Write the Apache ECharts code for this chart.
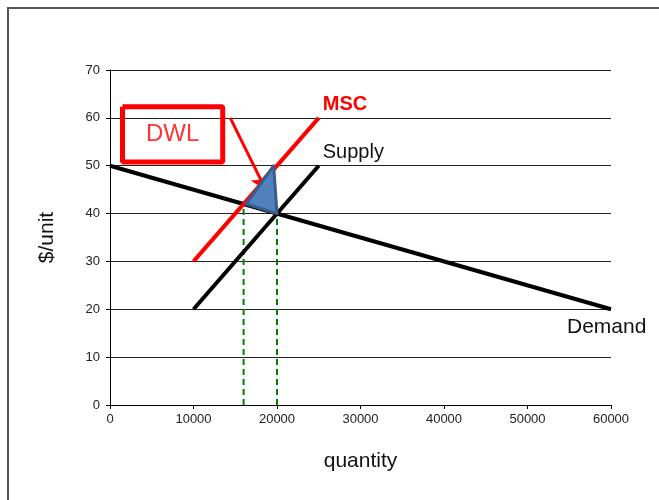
<!DOCTYPE html>
<html>
<head>
<meta charset="utf-8">
<title>DWL</title>
<script src="https://cdn.jsdelivr.net/npm/echarts@6/dist/echarts.min.js"></script>
<style>
  html, body { margin: 0; padding: 0; background: #fff; }
  #main { width: 659px; height: 500px; }
</style>
</head>
<body>
<div id="main"></div>
<script type="text/javascript">
// curves
var demandPts = [[0, 50], [60000, 20]];
var supplyPts = [[10000, 20], [25000, 50]];
var mscPts = [[10000, 30], [25000, 60]];
// deadweight loss triangle
var dwlPts = [[16300, 42], [19600, 50], [20000, 40]];
// dashed quantity markers
var q1Pts = [[16000, 0], [16000, 42]];
var q2Pts = [[20000, 0], [20000, 40]];
// DWL label box + arrow
var boxPts = [[1500, 62.3], [13500, 62.3], [13500, 50.8], [1500, 50.8], [1500, 62.3]];
var arrowFrom = [14400, 60];
var arrowTo = [18700, 44.8];

var myChart = echarts.init(document.getElementById('main'));
var font = 'Liberation Sans, Arial, sans-serif';

var option = {
    animation: false,
    grid: { left: 110, right: 48, top: 70, bottom: 95 },
    graphic: [{
        type: 'rect',
        shape: { x: 8, y: 8, width: 700, height: 600 },
        style: { fill: 'none', stroke: '#555', lineWidth: 2 },
        silent: true
    }],
    xAxis: {
        type: 'value', min: 0, max: 60000, interval: 10000,
        name: 'quantity', nameLocation: 'middle', nameGap: 46,
        nameTextStyle: { fontSize: 21, color: '#111', fontFamily: font },
        axisLine: { lineStyle: { color: '#000', width: 1 } },
        axisTick: { show: true, length: 4, lineStyle: { color: '#000' } },
        axisLabel: { fontSize: 13, color: '#222', fontFamily: font, margin: 8,
            formatter: function (v) { return String(v); } },
        splitLine: { show: false }
    },
    yAxis: {
        type: 'value', min: 0, max: 70, interval: 10,
        name: '$/unit', nameLocation: 'middle', nameGap: 52,
        nameTextStyle: { fontSize: 21, color: '#111', fontFamily: font },
        axisLine: { show: true, lineStyle: { color: '#000', width: 1 } },
        axisTick: { show: true, length: 4, lineStyle: { color: '#000' } },
        axisLabel: { fontSize: 13, color: '#222', fontFamily: font, margin: 10 },
        splitLine: { lineStyle: { color: '#222', width: 1 } }
    },
    series: [
        {
            type: 'line', data: q1Pts, symbol: 'none', silent: true,
            lineStyle: { color: '#008000', width: 2, type: [6, 4] }
        },
        {
            type: 'line', data: q2Pts, symbol: 'none', silent: true,
            lineStyle: { color: '#008000', width: 2, type: [6, 4] }
        },
        {
            type: 'line', data: demandPts, symbol: 'none',
            lineStyle: { color: '#000', width: 4 },
            endLabel: { show: true, formatter: 'Demand', fontSize: 21, color: '#111',
                fontFamily: font, offset: [-52, 18] }
        },
        {
            type: 'line', data: supplyPts, symbol: 'none',
            lineStyle: { color: '#000', width: 4 },
            endLabel: { show: true, formatter: 'Supply', fontSize: 20, color: '#111',
                fontFamily: font, offset: [-4, -13] }
        },
        {
            type: 'line', data: mscPts, symbol: 'none',
            lineStyle: { color: '#ff0000', width: 4 },
            endLabel: { show: true, formatter: 'MSC', fontSize: 20, fontWeight: 'bold',
                color: '#ff0000', fontFamily: font, offset: [-4, -13] }
        },
        {
            type: 'custom',
            data: [0],
            renderItem: function (params, api) {
                var pts = dwlPts.map(function (p) { return api.coord(p); });
                return {
                    type: 'polygon',
                    shape: { points: pts },
                    style: { fill: '#4f81bd', stroke: '#385d8a', lineWidth: 3, lineJoin: 'round' }
                };
            },
            z: 5
        },
        {
            type: 'line', data: boxPts, symbol: 'none',
            lineStyle: { color: '#ff0000', width: 5 },
            z: 6
        },
        {
            type: 'scatter', data: [[7500, 56.5]], symbolSize: 0,
            label: { show: true, formatter: 'DWL', position: 'inside', fontSize: 24,
                color: '#ff0000', fontFamily: font },
            z: 6
        },
        {
            type: 'line', data: [arrowFrom, arrowTo], symbol: 'none',
            lineStyle: { width: 0, opacity: 0 },
            markLine: {
                silent: true, symbol: ['none', 'arrow'], symbolSize: [14, 16],
                label: { show: false },
                lineStyle: { color: '#ff0000', width: 3, type: 'solid' },
                data: [[{ coord: arrowFrom }, { coord: arrowTo }]]
            },
            z: 7
        }
    ]
};

if (option && typeof option === "object") {
    myChart.setOption(option, true);
}
</script>
</body>
</html>
